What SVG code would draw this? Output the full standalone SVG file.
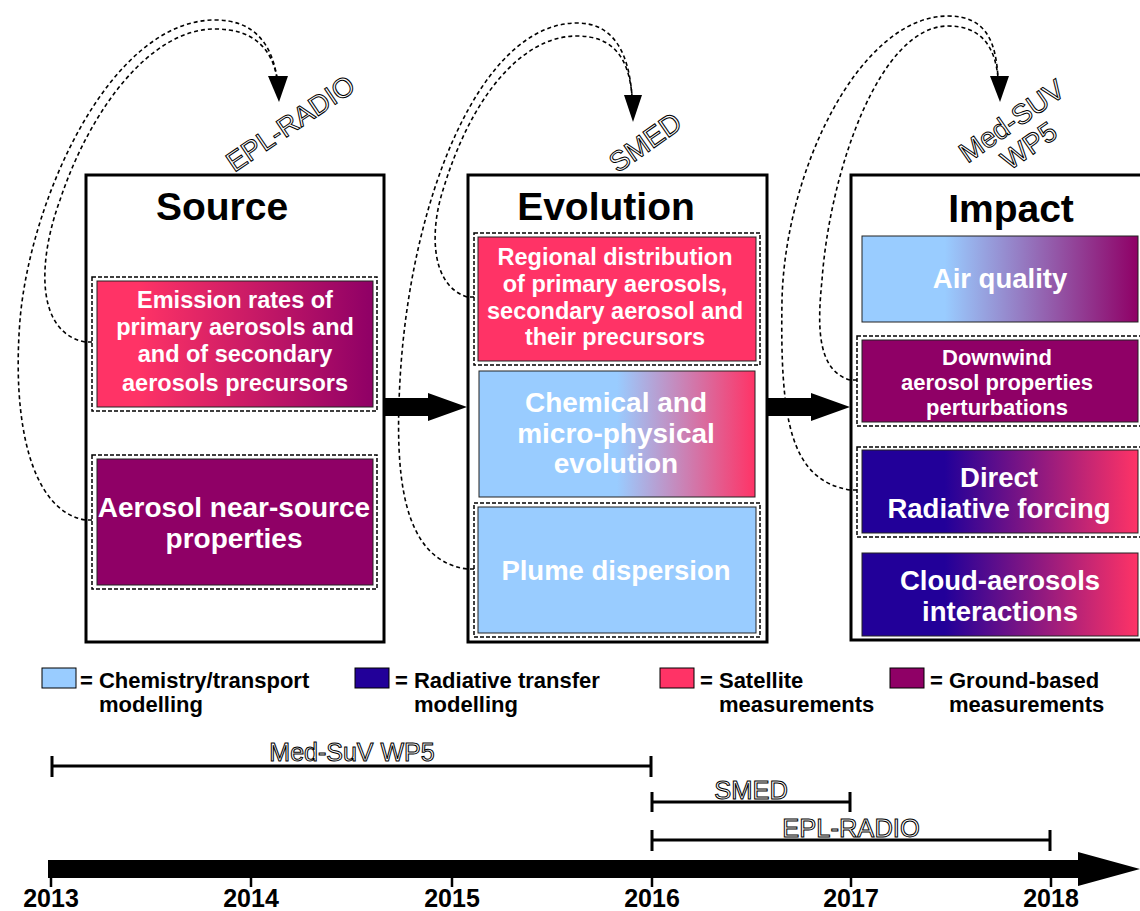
<svg xmlns="http://www.w3.org/2000/svg" width="1140" height="911" viewBox="0 0 1140 911">
<defs>
<linearGradient id="gPinkPurple" x1="0" y1="0" x2="1" y2="0"><stop offset="0.15" stop-color="#ff3366"/><stop offset="1" stop-color="#8f0066"/></linearGradient>
<linearGradient id="gBluePink" x1="0" y1="0" x2="1" y2="0"><stop offset="0.5" stop-color="#99ccff"/><stop offset="1" stop-color="#ff3366"/></linearGradient>
<linearGradient id="gBluePurple" x1="0" y1="0" x2="1" y2="0"><stop offset="0.3" stop-color="#99ccff"/><stop offset="1" stop-color="#8f0066"/></linearGradient>
<linearGradient id="gNavyPink" x1="0" y1="0" x2="1" y2="0"><stop offset="0.3" stop-color="#220099"/><stop offset="1" stop-color="#ff3366"/></linearGradient>
</defs>
<style>
.stage{fill:#fff;stroke:#000;stroke-width:3}
.title{font-family:"Liberation Sans",Arial,sans-serif;font-weight:bold;font-size:39px;fill:#000;text-anchor:middle}
.dash{fill:#fff;stroke:#000;stroke-width:1.5;stroke-dasharray:4,2}
.inner{stroke:#222;stroke-width:1}
.wt{font-family:"Liberation Sans",Arial,sans-serif;font-weight:bold;fill:#fff;text-anchor:middle}
.curve{fill:none;stroke:#000;stroke-width:1.6;stroke-dasharray:4,3}
.outl{font-family:"Liberation Sans",Arial,sans-serif;fill:#fff;stroke:#000;stroke-width:1;text-anchor:middle;opacity:0.999}
.leg{font-family:"Liberation Sans",Arial,sans-serif;font-weight:bold;font-size:22px;fill:#000}
.yr{font-family:"Liberation Sans",Arial,sans-serif;font-weight:bold;font-size:25px;fill:#000;text-anchor:middle}
.bar{stroke:#000;stroke-width:3;fill:none}
</style>
<rect width="1140" height="911" fill="#fff"/>

<g id="source">
<rect class="stage" x="86" y="175" width="298" height="467"/>
<text class="title" x="222" y="220">Source</text>
<g id="emission">
<rect class="dash" x="92" y="277" width="285" height="134"/>
<rect class="inner" x="97" y="281" width="276" height="126" fill="url(#gPinkPurple)"/>
<text class="wt" font-size="23.5"><tspan x="235" y="308">Emission rates of</tspan><tspan x="235" y="335">primary aerosols and</tspan><tspan x="235" y="362">and of secondary</tspan><tspan x="235" y="391">aerosols precursors</tspan></text>
</g>
<g id="nearsource">
<rect class="dash" x="92" y="455" width="285" height="134"/>
<rect class="inner" x="97" y="459" width="276" height="126" fill="#8f0066"/>
<text class="wt" font-size="28"><tspan x="234" y="517">Aerosol near-source</tspan><tspan x="234" y="548">properties</tspan></text>
</g>
</g>

<g id="evolution">
<rect class="stage" x="468" y="175" width="299" height="467"/>
<text class="title" x="606" y="220">Evolution</text>
<g id="regional">
<rect class="dash" x="474" y="233" width="286" height="132"/>
<rect class="inner" x="478" y="237" width="278" height="124" fill="#ff3366"/>
<text class="wt" font-size="23.5"><tspan x="615" y="265">Regional distribution</tspan><tspan x="615" y="292">of primary aerosols,</tspan><tspan x="615" y="319">secondary aerosol and</tspan><tspan x="615" y="345">their precursors</tspan></text>
</g>
<g id="chemical">
<rect class="inner" x="479" y="371" width="276" height="126" fill="url(#gBluePink)"/>
<text class="wt" font-size="28"><tspan x="616" y="412">Chemical and</tspan><tspan x="616" y="443">micro-physical</tspan><tspan x="616" y="473">evolution</tspan></text>
</g>
<g id="plume">
<rect class="dash" x="474" y="503" width="286" height="134"/>
<rect class="inner" x="478" y="507" width="278" height="126" fill="#99ccff"/>
<text class="wt" font-size="27.5" x="616" y="580">Plume dispersion</text>
</g>
</g>

<g id="impact">
<rect class="stage" x="851" y="175" width="300" height="465"/>
<text class="title" x="1011" y="222">Impact</text>
<g id="airquality">
<rect class="inner" x="862" y="236" width="276" height="86" fill="url(#gBluePurple)"/>
<text class="wt" font-size="27.5" x="1000" y="288">Air quality</text>
</g>
<g id="downwind">
<rect class="dash" x="857" y="336" width="290" height="90"/>
<rect class="inner" x="862" y="340" width="276" height="82" fill="#8f0066"/>
<text class="wt" font-size="22"><tspan x="997" y="365">Downwind</tspan><tspan x="997" y="390">aerosol properties</tspan><tspan x="997" y="415">perturbations</tspan></text>
</g>
<g id="direct">
<rect class="dash" x="857" y="447" width="290" height="90"/>
<rect class="inner" x="862" y="450" width="276" height="83" fill="url(#gNavyPink)"/>
<text class="wt" font-size="27.5"><tspan x="999" y="487">Direct</tspan><tspan x="999" y="518">Radiative forcing</tspan></text>
</g>
<g id="cloud">
<rect class="inner" x="862" y="553" width="276" height="83" fill="url(#gNavyPink)"/>
<text class="wt" font-size="27.5"><tspan x="1000" y="590">Cloud-aerosols</tspan><tspan x="1000" y="621">interactions</tspan></text>
</g>
</g>

<g id="connectors">
<path d="M385,398 H428 V393 L467,407 L428,421 V416 H385 Z" fill="#000"/>
<path d="M768,398 H811 V393 L850,407 L811,421 V416 H768 Z" fill="#000"/>
<path class="curve" d="M92,342 H85 C35,332 38,260 60,200 C90,110 150,29 215,29 C255,29 272,50 277,78"/>
<path class="curve" d="M92,520 H85 C30,510 12,420 20,320 C30,200 110,20 215,20 C255,20 272,45 277,78"/>
<polygon points="268,76 288,76 279,102" fill="#000"/>
<path class="curve" d="M474,297 H467 C430,285 430,230 443,190 C470,100 520,36 577,36 C615,36 629,60 632,96"/>
<path class="curve" d="M474,569 H467 C400,560 395,470 400,380 C410,200 480,23 577,23 C615,23 629,55 632,96"/>
<polygon points="624,95 642,95 633,122" fill="#000"/>
<path class="curve" d="M857,380 H850 C815,370 818,320 822,280 C830,170 880,26 948,26 C980,26 995,45 998,78"/>
<path class="curve" d="M857,490 H850 C790,480 780,420 782,300 C785,170 860,16 948,16 C985,16 996,40 998,78"/>
<polygon points="990,76 1009,76 1000,102" fill="#000"/>
</g>

<g id="labels">
<text class="outl" font-size="27.5" transform="translate(290,123) rotate(-34)" x="0" y="10">EPL-RADIO</text>
<text class="outl" font-size="28" transform="translate(645,142) rotate(-35)" x="0" y="10">SMED</text>
<text class="outl" font-size="28" transform="translate(1020,133) rotate(-35)"><tspan x="0" y="-5">Med-SUV</tspan><tspan x="0" y="25">WP5</tspan></text>
</g>

<g id="legend">
<rect x="42" y="668" width="34" height="20" fill="#99ccff" stroke="#000" stroke-width="1"/>
<text class="leg"><tspan x="80" y="688">= Chemistry/transport</tspan><tspan x="99" y="712">modelling</tspan></text>
<rect x="355" y="668" width="34" height="20" fill="#220099" stroke="#000" stroke-width="1"/>
<text class="leg"><tspan x="395" y="688">= Radiative transfer</tspan><tspan x="414" y="712">modelling</tspan></text>
<rect x="660" y="668" width="34" height="20" fill="#ff3366" stroke="#000" stroke-width="1"/>
<text class="leg"><tspan x="700" y="688">= Satellite</tspan><tspan x="719" y="712">measurements</tspan></text>
<rect x="890" y="668" width="34" height="20" fill="#8f0066" stroke="#000" stroke-width="1"/>
<text class="leg"><tspan x="930" y="688">= Ground-based</tspan><tspan x="949" y="712">measurements</tspan></text>
</g>

<g id="timeline">
<path class="bar" d="M52,756 V777 M52,766 H651 M651,756 V777"/>
<text class="outl" font-size="25" x="352" y="761">Med-SuV WP5</text>
<path class="bar" d="M652,792 V812 M652,802 H850 M850,792 V812"/>
<text class="outl" font-size="25.5" x="751" y="799">SMED</text>
<path class="bar" d="M652,830 V851 M652,840 H1050 M1050,830 V851"/>
<text class="outl" font-size="25.5" x="851" y="837">EPL-RADIO</text>
<path d="M48,860 H1078 V852 L1140,869 L1078,886 V878 H48 Z" fill="#000"/>
<path d="M51,870 V887 M251,870 V887 M452,870 V887 M652,870 V887 M851,870 V887 M1051,870 V887" stroke="#000" stroke-width="2.5"/>
<text class="yr" x="51" y="907">2013</text>
<text class="yr" x="251" y="907">2014</text>
<text class="yr" x="452" y="907">2015</text>
<text class="yr" x="652" y="907">2016</text>
<text class="yr" x="851" y="907">2017</text>
<text class="yr" x="1051" y="907">2018</text>
</g>
</svg>
